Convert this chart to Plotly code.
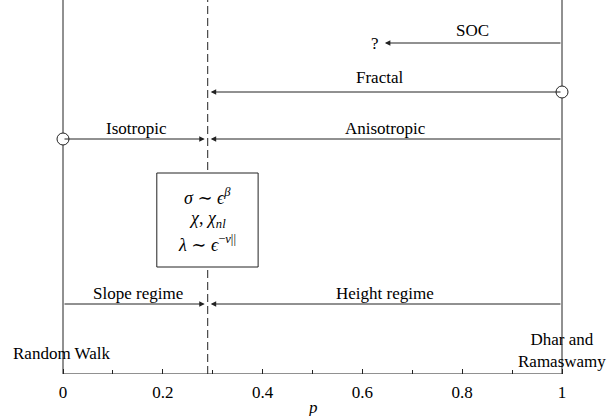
import plotly.graph_objects as go

# Critical point separating the two regimes
p_c = 0.29

# Vertical heights of the horizontal regime lines (arbitrary units, axis at 0)
levels = {"soc": 331, "fractal": 282, "iso": 235, "regime": 70}
top = 374

# Arrow segments: (tail p, tip p, level key)
arrows = [
    (1.0, 0.645, "soc"),
    (1.0, 0.296, "fractal"),
    (0.0, 0.284, "iso"),
    (1.0, 0.296, "iso"),
    (0.0, 0.284, "regime"),
    (1.0, 0.296, "regime"),
]

# Labels above the lines: (text, p, height)
labels = [
    ("SOC", 0.82, 344),
    ("?", 0.625, 331),
    ("Fractal", 0.635, 297),
    ("Isotropic", 0.147, 246),
    ("Anisotropic", 0.647, 246),
    ("Slope regime", 0.15, 81),
    ("Height regime", 0.645, 81),
    ("Random Walk", -0.003, 21),
]

# Open circles marking the end points
circle_p = [0.0, 1.0]
circle_y = [levels["iso"], levels["fractal"]]

# Box with the scaling relations
box_p = [0.188, 0.391]
box_y = [107, 201]
box_lines = [
    "<i>σ</i> ∼ <i>ϵ</i><sup><i>β</i></sup>",
    "<i>χ</i>, <i>χ</i><sub><i>nl</i></sub>",
    "<i>λ</i> ∼ <i>ϵ</i><sup>−<i>ν</i>||</sup>",
]
box_line_y = [178, 155, 131]

tick_vals = [0, 0.2, 0.4, 0.6, 0.8, 1]
tick_text = ["0", "0.2", "0.4", "0.6", "0.8", "1"]
minor_vals = [0.1, 0.3, 0.5, 0.7, 0.9]

FONT = "Liberation Serif, DejaVu Serif, serif"
INK = "#222"
FS = 17

fig = go.Figure()

fig.add_trace(go.Scatter(
    x=circle_p, y=circle_y, mode="markers",
    marker=dict(size=12, color="white", line=dict(color=INK, width=1)),
    showlegend=False, hoverinfo="skip", cliponaxis=False,
))

shapes = [
    # boundary lines at p=0 and p=1
    dict(type="line", x0=0, x1=0, y0=0, y1=top, line=dict(color=INK, width=1)),
    dict(type="line", x0=1, x1=1, y0=0, y1=top, line=dict(color=INK, width=1)),
    # critical point
    dict(type="line", x0=p_c, x1=p_c, y0=0, y1=top,
         line=dict(color=INK, width=1, dash="8px,4px")),
    # box on top of the dashed line
    dict(type="rect", x0=box_p[0], x1=box_p[1], y0=box_y[0], y1=box_y[1],
         fillcolor="white", line=dict(color=INK, width=1)),
    # p axis
    dict(type="line", x0=0, x1=1, y0=0, y1=0, line=dict(color=INK, width=1)),
]
for s in shapes:
    s.update(xref="x", yref="y", layer="below")
shapes[3]["layer"] = "above"

annotations = []
for tail, tip, key in arrows:
    y = levels[key]
    annotations.append(dict(
        x=tip, y=y, ax=tail, ay=y, xref="x", yref="y", axref="x", ayref="y",
        text="", showarrow=True, arrowhead=2, arrowsize=1.1, arrowwidth=1,
        arrowcolor=INK,
    ))
for text, p, y in labels:
    annotations.append(dict(x=p, y=y, xref="x", yref="y", text=text,
                            showarrow=False, font=dict(family=FONT, size=FS, color="black")))
annotations.append(dict(x=1.0, y=24, xref="x", yref="y",
                        text="Dhar and<br>Ramaswamy", showarrow=False, align="center",
                        font=dict(family=FONT, size=FS, color="black")))
for text, y in zip(box_lines, box_line_y):
    annotations.append(dict(x=sum(box_p) / 2, y=y, xref="x", yref="y", text=text,
                            showarrow=False, font=dict(family=FONT, size=18, color="black")))
annotations.append(dict(x=0.5, y=-34 / top, xref="x", yref="paper", yanchor="middle",
                        text="<i>p</i>", showarrow=False,
                        font=dict(family=FONT, size=FS, color="black")))

fig.update_layout(
    width=613, height=416,
    margin=dict(l=0, r=0, t=0, b=42),
    paper_bgcolor="white", plot_bgcolor="white",
    shapes=shapes, annotations=annotations,
    xaxis=dict(range=[-63 / 499, 550 / 499], showgrid=False, zeroline=False,
               showline=False, tickmode="array", tickvals=tick_vals,
               ticktext=tick_text, ticks="inside", ticklen=5, tickcolor=INK,
               ticklabelstandoff=6,
               tickfont=dict(family=FONT, size=FS, color="black"),
               minor=dict(tickvals=minor_vals, ticks="inside", ticklen=4,
                          tickcolor=INK)),
    yaxis=dict(range=[0, top], visible=False),
)

fig.write_html("out.html")
